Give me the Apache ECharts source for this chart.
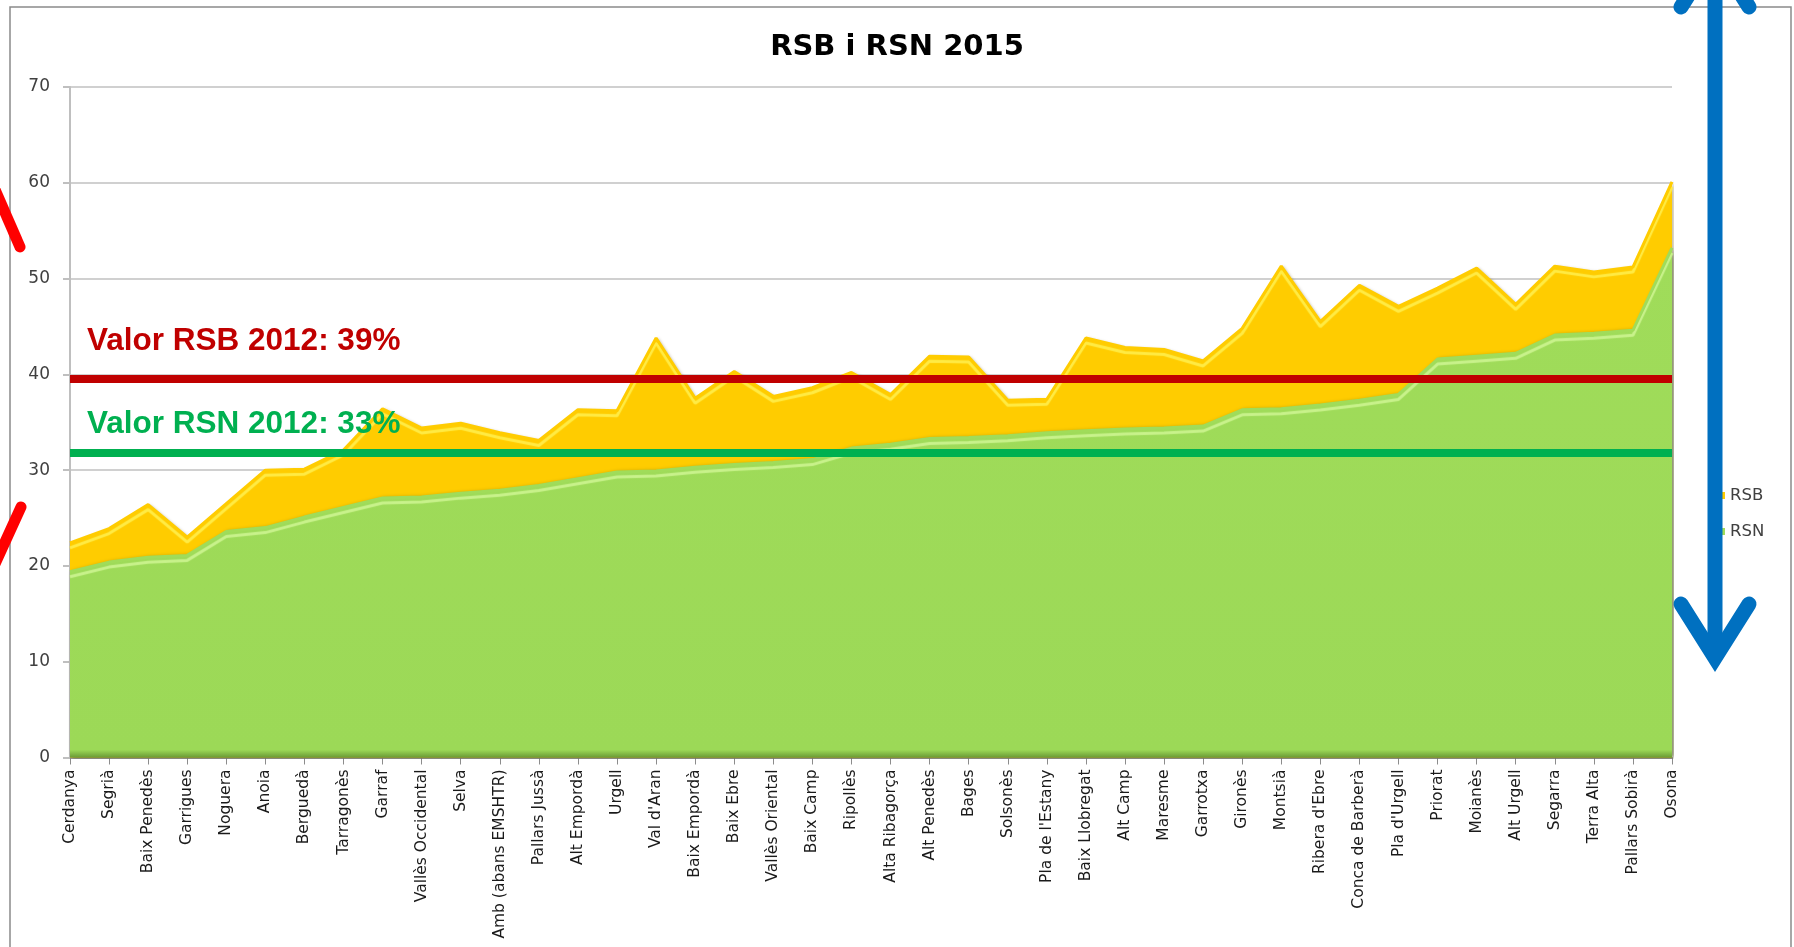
<!DOCTYPE html>
<html>
<head>
<meta charset="utf-8">
<title>RSB i RSN 2015</title>
<script src="https://cdn.jsdelivr.net/npm/echarts@6/dist/echarts.min.js"></script>
<style>
  html, body { margin: 0; padding: 0; background: #fff; }
  #chart { width: 1794px; height: 947px; }
</style>
</head>
<body>
<div id="chart"></div>
<script>
// comarques, ordered by RSN
const comarques = [
  'Cerdanya', 'Segrià', 'Baix Penedès', 'Garrigues', 'Noguera', 'Anoia', 'Berguedà',
  'Tarragonès', 'Garraf', 'Vallès Occidental', 'Selva', 'Amb (abans EMSHTR)', 'Pallars Jussà',
  'Alt Empordà', 'Urgell', "Val d'Aran", 'Baix Empordà', 'Baix Ebre', 'Vallès Oriental',
  'Baix Camp', 'Ripollès', 'Alta Ribagorça', 'Alt Penedès', 'Bages', 'Solsonès',
  "Pla de l'Estany", 'Baix Llobregat', 'Alt Camp', 'Maresme', 'Garrotxa', 'Gironès',
  'Montsià', "Ribera d'Ebre", 'Conca de Barberà', "Pla d'Urgell", 'Priorat', 'Moianès',
  'Alt Urgell', 'Segarra', 'Terra Alta', 'Pallars Sobirà', 'Osona'
]
const rsb = [
  22.4, 23.9, 26.4, 23.0, 26.5, 30.0, 30.1, 32.1, 36.4, 34.4,
  34.9, 33.9, 33.1, 36.3, 36.2, 43.8, 37.5, 40.3, 37.7, 38.6,
  40.2, 37.9, 41.9, 41.8, 37.3, 37.4, 43.8, 42.8, 42.6, 41.4,
  44.8, 51.3, 45.5, 49.3, 47.1, 49.0, 51.1, 47.3, 51.3, 50.7,
  51.2, 60.1
]
const rsn = [
  19.4, 20.4, 20.9, 21.1, 23.6, 24.0, 25.1, 26.1, 27.1, 27.2,
  27.6, 27.9, 28.4, 29.1, 29.8, 29.9, 30.3, 30.6, 30.8, 31.1,
  32.3, 32.7, 33.3, 33.4, 33.6, 33.9, 34.1, 34.3, 34.4, 34.6,
  36.3, 36.4, 36.8, 37.3, 37.9, 41.6, 41.9, 42.2, 44.1, 44.3,
  44.6, 53.2
]
// eix Y
const yMin = 0
const yMax = 70
const yStep = 10
// valors de referència 2012
const refValues = [39.5, 31.8]
const refLabels = ['Valor RSB 2012: 39%', 'Valor RSN 2012: 33%']
const refColors = ['#C00000', '#00B050']
const refLabelGap = [22, 13]

const chartDom = document.getElementById('chart')
const myChart = echarts.init(chartDom)

const option = {
  animation: false,
  backgroundColor: '#fff',
  title: {
    text: 'RSB i RSN 2015',
    left: 'center',
    top: 28,
    textStyle: {
      fontFamily: 'DejaVu Sans',
      fontWeight: 'bold',
      fontSize: 29,
      color: '#000'
    }
  },
  legend: {
    data: ['RSB', 'RSN'],
    orient: 'vertical',
    left: 1713,
    top: 482,
    itemWidth: 7,
    itemHeight: 7,
    itemGap: 19,
    itemTextGap: 6,
    icon: 'rect',
    textStyle: {
      fontFamily: 'DejaVu Sans',
      fontSize: 16.5,
      color: '#404040'
    }
  },
  grid: {
    left: 70,
    right: 122,
    top: 87,
    bottom: 189.5
  },
  xAxis: {
    type: 'category',
    data: comarques,
    boundaryGap: false,
    axisLine: { lineStyle: { color: '#8c8c8c', width: 1.5 } },
    axisTick: { show: true, length: 7, lineStyle: { color: '#8c8c8c' } },
    axisLabel: {
      interval: 0,
      rotate: 90,
      margin: 12,
      fontFamily: 'DejaVu Sans',
      fontSize: 15.5,
      color: '#1a1a1a'
    }
  },
  yAxis: {
    type: 'value',
    min: yMin,
    max: yMax,
    interval: yStep,
    axisLine: { show: true, lineStyle: { color: '#bfbfbf', width: 2 } },
    axisTick: { show: true, length: 7, lineStyle: { color: '#bfbfbf', width: 2 } },
    axisLabel: {
      margin: 20,
      fontFamily: 'DejaVu Sans',
      fontSize: 17,
      color: '#404040'
    },
    splitLine: { lineStyle: { color: '#d0d0d0', width: 2 } }
  },
  series: [
    {
      name: 'RSB',
      type: 'line',
      data: rsb,
      showSymbol: false,
      symbol: 'none',
      itemStyle: { color: '#FFCC00' },
      lineStyle: {
        color: '#FFCC00',
        width: 3,
        shadowColor: '#FFEB45',
        shadowOffsetY: 5,
        shadowBlur: 1
      },
      areaStyle: {
        color: '#FFCC00',
        opacity: 1,
        shadowColor: 'rgba(90,70,0,0.35)',
        shadowOffsetX: 2,
        shadowBlur: 3
      },
      z: 2
    },
    {
      name: 'RSN',
      type: 'line',
      data: rsn,
      showSymbol: false,
      symbol: 'none',
      itemStyle: { color: '#A0DC5A' },
      lineStyle: {
        color: '#A0DC5A',
        width: 3,
        shadowColor: '#C9F28C',
        shadowOffsetY: 5,
        shadowBlur: 1
      },
      areaStyle: {
        opacity: 1,
        shadowColor: 'rgba(40,60,10,0.45)',
        shadowOffsetX: 2,
        shadowBlur: 4,
        color: new echarts.graphic.LinearGradient(0, 0, 0, 1, [
          { offset: 0, color: '#A0DC5A' },
          { offset: 0.985, color: '#9CD957' },
          { offset: 1, color: '#6A9A35' }
        ])
      },
      z: 3,
      markLine: {
        silent: true,
        symbol: 'none',
        data: refValues.map((v, i) => ({
          yAxis: v,
          lineStyle: { color: refColors[i], width: 8, type: 'solid' },
          label: {
            show: true,
            position: 'insideStartTop',
            distance: [17, refLabelGap[i]],
            formatter: refLabels[i],
            color: refColors[i],
            fontFamily: 'Liberation Sans',
            fontWeight: 'bold',
            fontSize: 31.5
          }
        }))
      }
    }
  ],
  graphic: [
    {
      type: 'rect',
      silent: true,
      z: 50,
      shape: { x: 10, y: 7, width: 1781, height: 980 },
      style: { fill: 'none', stroke: '#8a8a8a', lineWidth: 1.5 }
    },
    // marques vermelles a l'esquerra
    {
      type: 'polyline',
      silent: true,
      z: 60,
      shape: { points: [[-10, 178], [20, 247]] },
      style: { stroke: '#FF0000', lineWidth: 11, lineCap: 'round' }
    },
    {
      type: 'polyline',
      silent: true,
      z: 60,
      shape: { points: [[21, 507], [-10, 575]] },
      style: { stroke: '#FF0000', lineWidth: 11, lineCap: 'round' }
    },
    // fletxa blava
    {
      type: 'polyline',
      silent: true,
      z: 60,
      shape: { points: [[1715, -70], [1715, 656]] },
      style: { stroke: '#0070C0', lineWidth: 15 }
    },
    {
      type: 'polyline',
      silent: true,
      z: 60,
      shape: { points: [[1681, 604], [1715, 658], [1749, 604]] },
      style: { stroke: '#0070C0', lineWidth: 15, lineCap: 'round', lineJoin: 'miter' }
    },
    {
      type: 'polyline',
      silent: true,
      z: 60,
      shape: { points: [[1681, 7], [1715, -47], [1749, 7]] },
      style: { stroke: '#0070C0', lineWidth: 15, lineCap: 'round', lineJoin: 'miter' }
    }
  ]
}

option && myChart.setOption(option)
</script>
</body>
</html>
